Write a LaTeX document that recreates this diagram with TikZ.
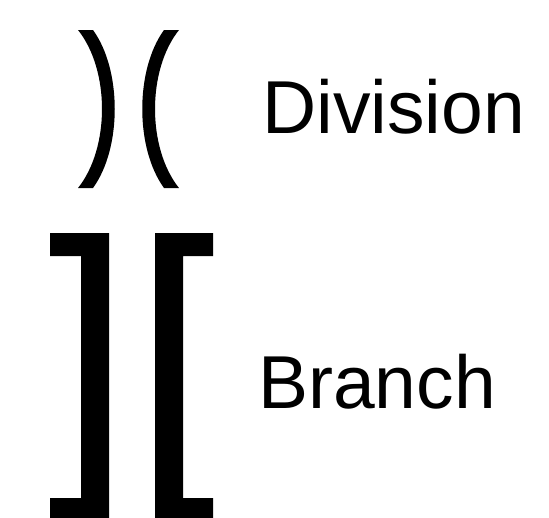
\documentclass[tikz,border=0pt]{standalone}
\usepackage{fontspec}
\setmainfont{Liberation Sans}
\usepackage{tikz}
\usetikzlibrary{positioning}
\tikzstyle{glyph}=[fill=black, draw=none]
\tikzstyle{word}=[anchor=base west, inner sep=0pt, font=\fontsize{75}{80}\selectfont]

\begin{document}
\begin{tikzpicture}[x=1pt,y=-1pt]
    \useasboundingbox (0,0) rectangle (549,517);
    \clip (0,0) rectangle (549,517);

    % division: )(
    \fill[glyph] (78,30) .. controls (110,70) and (110,148) .. (78,188)
        -- (93,188) .. controls (122,148) and (122,70) .. (93,30) -- cycle;
    \fill[glyph] (179,30) .. controls (147,70) and (147,148) .. (179,188)
        -- (164,188) .. controls (135,148) and (135,70) .. (164,30) -- cycle;
    \node[word] (div) at (262,133) {Division};

    % branch: ][
    \fill[glyph] (50,233) -- (109,233) -- (109,521) -- (50,521) -- (50,498)
        -- (81,498) -- (81,256) -- (50,256) -- cycle;
    \fill[glyph] (213,233) -- (155,233) -- (155,521) -- (213,521) -- (213,498)
        -- (183,498) -- (183,256) -- (213,256) -- cycle;
    \node[word] (br) at (258,408) {Branch};

\end{tikzpicture}
\end{document}
